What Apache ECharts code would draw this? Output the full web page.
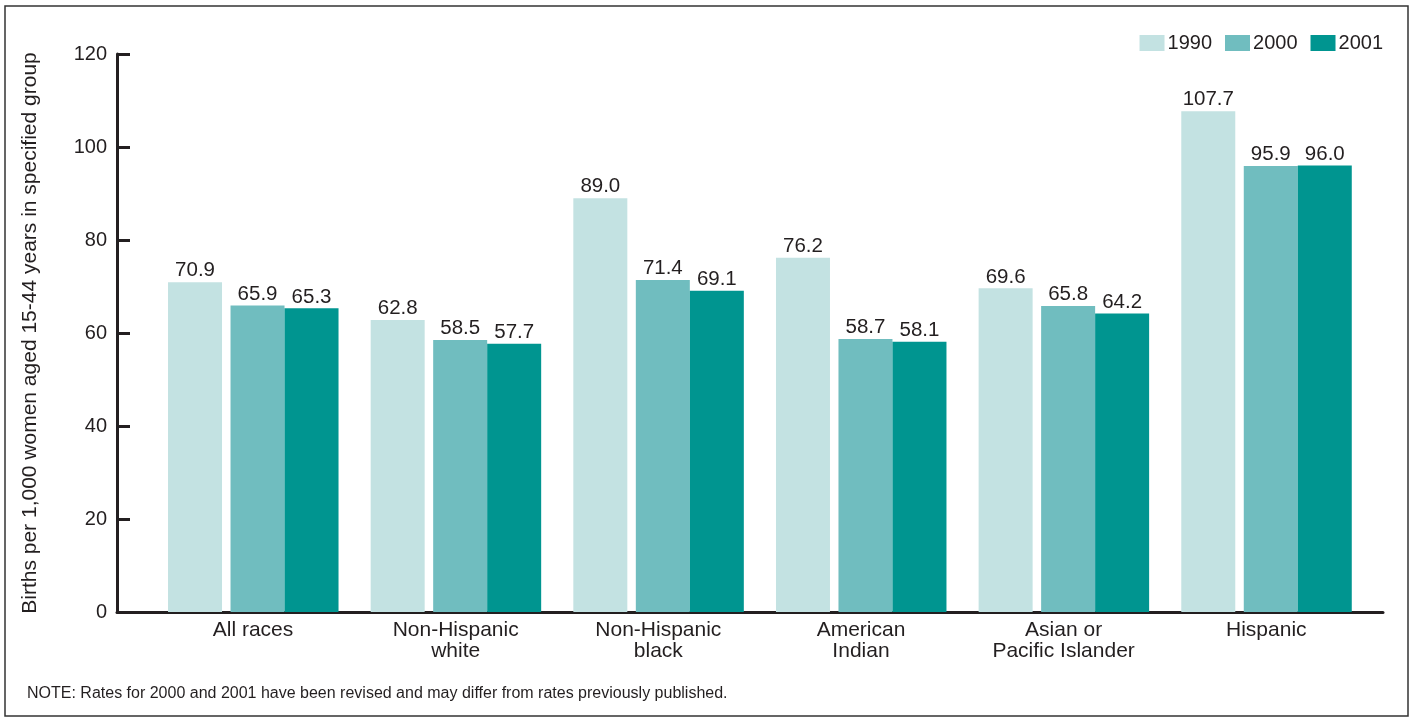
<!DOCTYPE html>
<html>
<head>
<meta charset="utf-8">
<script src="https://cdn.jsdelivr.net/npm/echarts@6/dist/echarts.min.js"></script>
<style>
html,body{margin:0;padding:0;background:#fff;}
#chart{width:1416px;height:717px;}
</style>
</head>
<body>
<div id="chart"></div>
<script>
const categories = ['All races', 'Non-Hispanic\nwhite', 'Non-Hispanic\nblack', 'American\nIndian', 'Asian or\nPacific Islander', 'Hispanic'];
const seriesNames = ['1990', '2000', '2001'];
const values1990 = [70.9, 62.8, 89.0, 76.2, 69.6, 107.7];
const values2000 = [65.9, 58.5, 71.4, 58.7, 65.8, 95.9];
const values2001 = [65.3, 57.7, 69.1, 58.1, 64.2, 96.0];
const yTicks = [0, 20, 40, 60, 80, 100, 120];

const FONT = 'Liberation Sans, Arial, Helvetica, sans-serif';
const TXT = '#231f20';
const colors = ['#c3e2e2', '#70bdbf', '#009590'];

const TOP = 54, BOTTOM = 105;
const hiddenY = (i) => ({ type: 'value', gridIndex: i, min: 0, max: 120, interval: 20, show: false });
const hiddenX = (i) => ({ type: 'category', gridIndex: i, data: categories, show: false });

const barLabel = {
  show: true, position: 'top', distance: 1,
  fontFamily: FONT, fontSize: 20.5, color: TXT,
  formatter: p => Number(p.value).toFixed(1)
};

const chart = echarts.init(document.getElementById('chart'), null, { renderer: 'canvas' });
chart.setOption({
  animation: false,
  backgroundColor: '#fff',
  graphic: [{
    type: 'rect', shape: { x: 5, y: 6, width: 1403, height: 710 },
    style: { fill: 'none', stroke: '#333', lineWidth: 1.5 }, silent: true, z: -10
  }, {
    type: 'text', left: 27, top: 686,
    style: { text: 'NOTE: Rates for 2000 and 2001 have been revised and may differ from rates previously published.',
      font: '16px ' + FONT, fill: TXT }
  }],
  legend: {
    data: seriesNames, right: 28, top: 28, icon: 'rect',
    itemWidth: 25, itemHeight: 16, itemGap: 13,
    textStyle: { fontFamily: FONT, fontSize: 20, color: TXT, padding: [0, 0, 0, -2] }
  },
  grid: [
    { left: 117, right: 33, top: TOP, bottom: BOTTOM },
    { left: 93.7, right: 106.4, top: TOP, bottom: BOTTOM },
    { left: 183.2, right: 16.9, top: TOP, bottom: BOTTOM },
    { left: 151.7, right: 48.4, top: TOP, bottom: BOTTOM }
  ],
  xAxis: [
    { type: 'category', gridIndex: 0, data: categories,
      axisLine: { show: true, lineStyle: { color: '#231f20', width: 3 } },
      axisTick: { show: false }, axisLabel: { show: false } },
    hiddenX(1),
    hiddenX(2),
    { type: 'category', gridIndex: 3, data: categories,
      axisLine: { show: false }, axisTick: { show: false },
      axisLabel: { show: true, interval: 0, margin: 8, fontFamily: FONT, fontSize: 21, lineHeight: 21, color: TXT } }
  ],
  yAxis: [
    { type: 'value', gridIndex: 0, min: 0, max: 120, interval: 20,
      name: 'Births per 1,000 women aged 15-44 years in specified group',
      nameLocation: 'middle', nameGap: 76, nameRotate: 90,
      nameTextStyle: { fontFamily: FONT, fontSize: 21, color: TXT },
      axisLine: { show: true, lineStyle: { color: '#231f20', width: 3 } },
      axisTick: { show: true, inside: true, length: 13, lineStyle: { color: '#231f20', width: 3 } },
      axisLabel: { margin: 10, fontFamily: FONT, fontSize: 20, color: TXT,
        formatter: v => yTicks.includes(v) ? String(v) : '' },
      splitLine: { show: false } },
    hiddenY(1),
    hiddenY(2),
    hiddenY(3)
  ],
  series: [
    { name: '1990', type: 'bar', xAxisIndex: 1, yAxisIndex: 1, data: values1990,
      barWidth: 54, itemStyle: { color: colors[0] }, label: barLabel, z: 1 },
    { name: '2000', type: 'bar', xAxisIndex: 2, yAxisIndex: 2, data: values2000,
      barWidth: 54, barGap: '0%', itemStyle: { color: colors[1] }, label: barLabel, z: 1 },
    { name: '2001', type: 'bar', xAxisIndex: 2, yAxisIndex: 2, data: values2001,
      barWidth: 54, barGap: '0%', itemStyle: { color: colors[2] }, label: barLabel, z: 1 }
  ]
});
</script>
</body>
</html>
